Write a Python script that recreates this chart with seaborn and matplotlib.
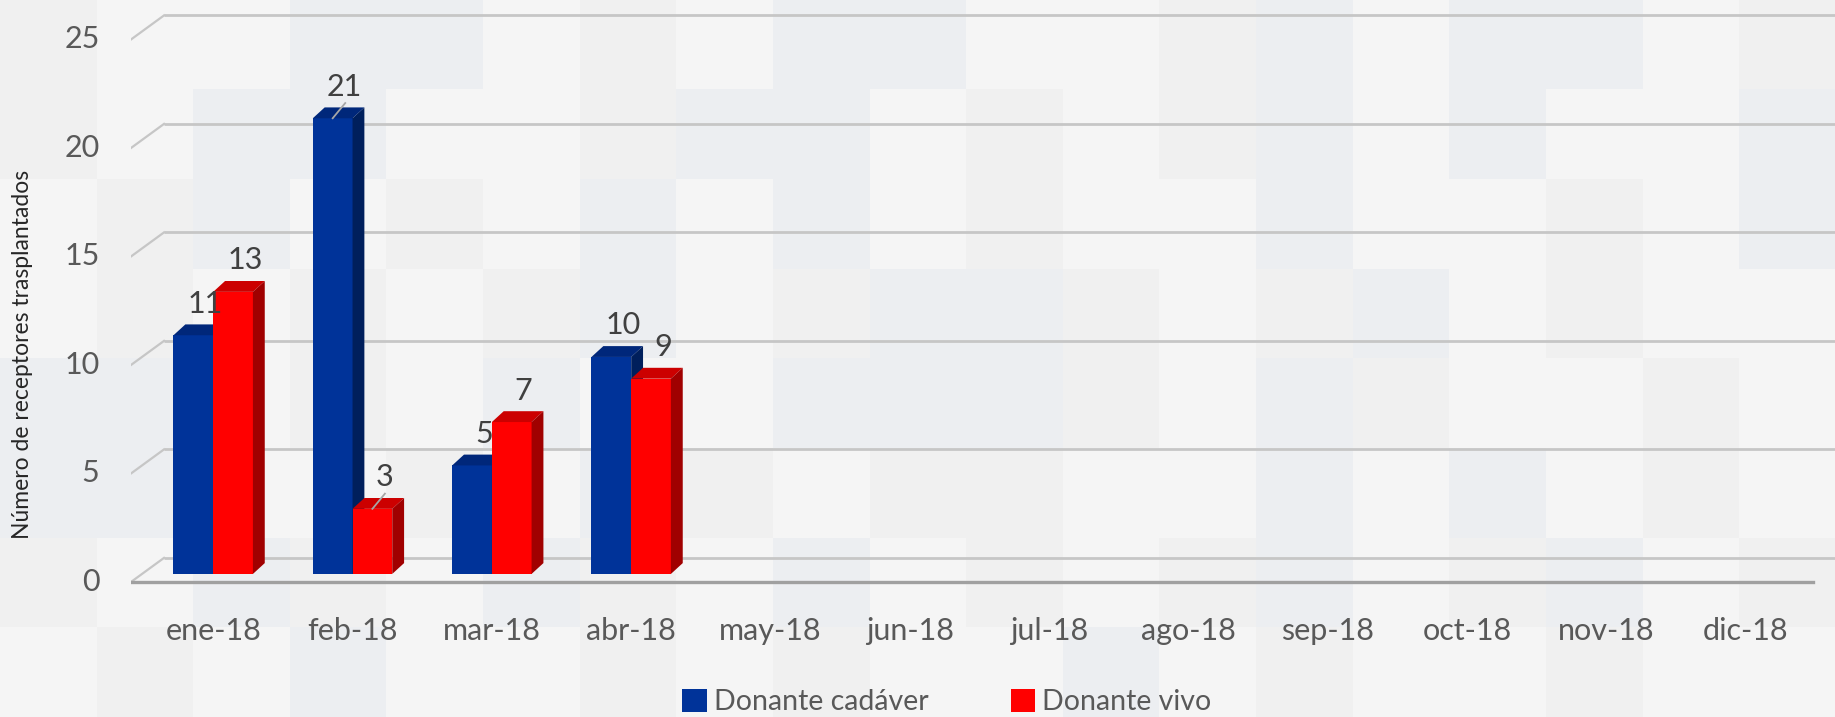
import matplotlib.pyplot as plt
import numpy as np
import pandas as pd
import seaborn as sns
from matplotlib.patches import Polygon, Patch
from matplotlib.colors import ListedColormap

# data
months = ['ene-18', 'feb-18', 'mar-18', 'abr-18', 'may-18', 'jun-18',
          'jul-18', 'ago-18', 'sep-18', 'oct-18', 'nov-18', 'dic-18']
filled_months = ['ene-18', 'feb-18', 'mar-18', 'abr-18']
cadaver = [11, 21, 5, 10]
vivo = [13, 3, 7, 9]
series = ['Donante cadáver', 'Donante vivo']
y_ticks = [0, 5, 10, 15, 20, 25]
leaders = [('Donante cadáver', 'feb-18'), ('Donante vivo', 'feb-18')]

front_colors = ['#003399', '#ff0000']
top_colors = ['#00277a', '#cc0000']
side_colors = ['#001f5c', '#a00000']
text_color = '#595959'
grid_color = '#c6c6c6'
bg = '#f5f5f5'

# faint tile pattern of the slide background (0 base, 1 grey, 2 blue-grey)
tiles = np.array([
    [1, 0, 0, 2, 2, 0, 1, 0, 2, 2, 0, 0, 1, 2, 0, 2, 2, 0, 1],
    [1, 0, 2, 2, 0, 0, 1, 2, 2, 0, 1, 0, 1, 2, 0, 2, 0, 0, 2],
    [0, 1, 2, 0, 1, 0, 2, 0, 2, 0, 1, 0, 0, 2, 0, 0, 1, 0, 2],
    [0, 1, 0, 1, 0, 1, 2, 0, 1, 2, 2, 1, 0, 1, 2, 0, 1, 0, 0],
    [2, 2, 0, 1, 0, 2, 0, 0, 2, 2, 2, 1, 0, 2, 1, 0, 0, 1, 0],
    [2, 2, 0, 0, 1, 0, 2, 1, 0, 1, 1, 0, 0, 2, 0, 2, 0, 1, 0],
    [1, 0, 2, 1, 0, 2, 1, 0, 2, 0, 1, 0, 1, 2, 0, 1, 2, 0, 1],
    [0, 1, 0, 2, 0, 0, 1, 0, 1, 0, 0, 2, 0, 1, 0, 0, 1, 0, 0],
])

df = pd.DataFrame({
    'Mes': filled_months * 2,
    'Donante': [series[0]] * len(cadaver) + [series[1]] * len(vivo),
    'Receptores': cadaver + vivo,
})

plt.rcParams['font.family'] = ['Lato', 'DejaVu Sans']

fig = plt.figure(figsize=(18.35, 7.17), dpi=100, facecolor=bg)
bg_ax = fig.add_axes([0, 0, 1, 1], zorder=-10)
bg_ax.imshow(tiles, cmap=ListedColormap([bg, '#f0f0f0', '#eceef1']),
             aspect='auto', interpolation='nearest', vmin=0, vmax=2)
bg_ax.axis('off')

ax = fig.add_axes([131 / 1835, 0.1632, 1 - 131 / 1835, 0.8368])
ax.set_facecolor('none')

sns.barplot(data=df, x='Mes', y='Receptores', hue='Donante', order=months,
            hue_order=series, palette=front_colors, width=0.57, ax=ax,
            saturation=1, legend=False, linewidth=0)

x_left, x_right = -0.59, 11.64
ax.set_xlim(x_left, x_right)
ax.set_ylim(-1.2, 26.45)

dx, dy = 0.085, 0.5        # depth of the fake 3d bars (data units)
back_off, front_off = 0.74, -0.37
back_x = -0.353

# back wall gridlines with the little diagonal on the left
for v in y_ticks:
    ax.plot([back_x, x_right], [v + back_off, v + back_off], color=grid_color,
            lw=2, zorder=0, solid_capstyle='butt')
    ax.plot([x_left, back_x], [v + front_off, v + back_off], color=grid_color,
            lw=1.6, zorder=0)
    ax.text(-0.816, v + front_off, str(v), ha='right', va='center',
            fontsize=22, color=text_color)
# floor front edge
ax.plot([x_left, 11.48], [front_off, front_off], color='#a0a0a0', lw=2.4, zorder=0)

# 3d faces for every bar
n = len(cadaver)
for i, p in enumerate(ax.patches):
    h = p.get_height()
    if not h:
        continue
    s = 0 if i < n else 1
    z = 2 + s
    p.set_zorder(z)
    x0 = p.get_x()
    x1 = x0 + p.get_width()
    cx = (x0 + x1) / 2
    ax.add_patch(Polygon([(x0, h), (x1, h), (x1 + dx, h + dy), (x0 + dx, h + dy)],
                         closed=True, color=top_colors[s], lw=0, zorder=z))
    ax.add_patch(Polygon([(x1, 0), (x1 + dx, dy), (x1 + dx, h + dy), (x1, h)],
                         closed=True, color=side_colors[s], lw=0, zorder=z))
    ax.text(cx + dx, h + 1.45, f'{h:.0f}', ha='center', va='center',
            fontsize=22, color='#404040', zorder=5)
    if (series[s], filled_months[i % n]) in leaders:
        ax.plot([cx, cx + 0.09], [h, h + 0.7], color='#a6a6a6', lw=1.3, zorder=6)

ax.set_yticks([])
ax.set_xticks(range(len(months)))
ax.set_xticklabels(months, fontsize=22, color=text_color)
ax.tick_params(axis='x', length=0, pad=12)
ax.set_xlabel('')
ax.set_ylabel('')
for sp in ax.spines.values():
    sp.set_visible(False)

fig.text(23 / 1835, 0.505, 'Número de receptores trasplantados', rotation=90,
         ha='center', va='center', fontsize=16.5, color='#262626')

handles = [Patch(facecolor=c, edgecolor='none') for c in front_colors]
fig.legend(handles, series, loc='lower center', bbox_to_anchor=(0.516, -0.033),
           ncol=2, frameon=False, fontsize=20.5, handlelength=0.85,
           handleheight=0.85, handletextpad=0.25, columnspacing=2.9,
           labelcolor=text_color)

fig.savefig('out.png', dpi=100, facecolor=bg)
